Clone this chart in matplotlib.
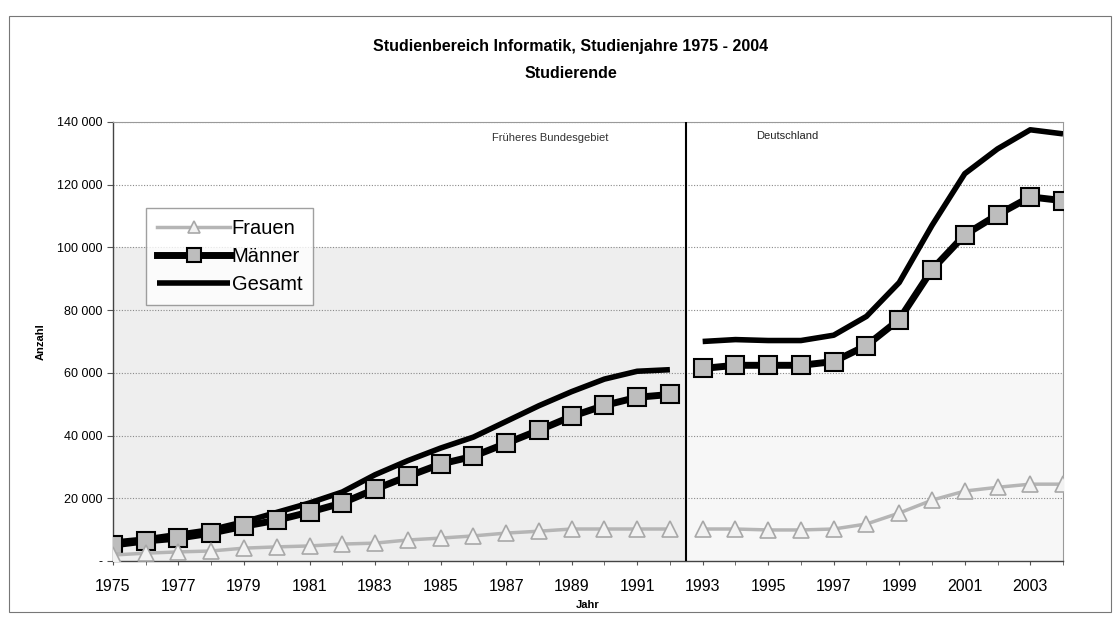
import matplotlib
matplotlib.use("Agg")
import matplotlib.pyplot as plt
from matplotlib.ticker import FuncFormatter, MultipleLocator
from matplotlib.patches import Rectangle

plt.rcParams['font.family'] = ['Liberation Sans', 'DejaVu Sans']

years_west = list(range(1975, 1993))
years_de = list(range(1993, 2005))

frauen_west = [1900, 2500, 2900, 3200, 4100, 4500, 4800, 5400, 5700, 6700,
               7300, 8000, 8900, 9500, 10200, 10200, 10200, 10200]
frauen_de = [10200, 10200, 9900, 9900, 10200, 11800, 15300, 19400, 22300,
             23500, 24500, 24500]

maenner_west = [5100, 6400, 7300, 8900, 11100, 13000, 15600, 18500, 22900,
                27000, 30900, 33400, 37500, 41700, 46100, 49600, 52200, 53100]
maenner_de = [61400, 62400, 62400, 62400, 63600, 68700, 77000, 92900, 104000,
              110400, 116100, 114900]

gesamt_west = [6000, 7000, 8500, 10000, 12500, 15500, 18500, 22000, 27500,
               32000, 36000, 39500, 44500, 49500, 54000, 58000, 60500, 61000]
gesamt_de = [70000, 70600, 70300, 70300, 72000, 78000, 88800, 107000, 123500,
             131400, 137500, 136200]

tick_years = list(range(1975, 2004, 2))

fig = plt.figure(figsize=(11.15, 6.19), dpi=100)
ax = fig.add_axes([0.1013, 0.0937, 0.8521, 0.7093])

# light grey shading (as in scanned reference)
ax.add_patch(Rectangle((1975, 0), 17.5, 100000, facecolor='#eeeeee',
                       edgecolor='none', zorder=0))
ax.add_patch(Rectangle((1992.5, 0), 11.5, 60000, facecolor='#f7f7f7',
                       edgecolor='none', zorder=0))

for yv in range(20000, 140001, 20000):
    ax.axhline(yv, color='#8a8a8a', lw=0.8, ls=(0, (1, 1.5)), zorder=1)

# Gesamt
ax.plot(years_west, gesamt_west, color='black', lw=4, solid_capstyle='butt',
        zorder=3, label='Gesamt')
ax.plot(years_de, gesamt_de, color='black', lw=4, solid_capstyle='butt', zorder=3)

# Männer
mk = dict(marker='s', markersize=12.5, markerfacecolor='#bdbdbd',
          markeredgecolor='black', markeredgewidth=1.5)
ax.plot(years_west, maenner_west, color='black', lw=5, zorder=4, label='Männer', **mk)
ax.plot(years_de, maenner_de, color='black', lw=5, zorder=4, **mk)

# Frauen
fk = dict(marker='^', markersize=12, markerfacecolor='#f2f2f2',
          markeredgecolor='#a8a8a8', markeredgewidth=1.2)
ax.plot(years_west, frauen_west, color='#b5b5b5', lw=2.5, zorder=5, label='Frauen', **fk)
ax.plot(years_de, frauen_de, color='#b5b5b5', lw=2.5, zorder=5, **fk)

# divider
ax.axvline(1992.5, color='black', lw=1.5, zorder=6)

ax.set_xlim(1975, 2004)
ax.set_ylim(0, 140000)
ax.set_xticks(tick_years)
ax.set_xticklabels([str(y) for y in tick_years], fontsize=11.5)
ax.xaxis.set_minor_locator(MultipleLocator(1))
ax.tick_params(axis='x', which='both', direction='out', length=3, pad=10, color='#555555')
ax.yaxis.set_major_locator(MultipleLocator(20000))
ax.yaxis.set_major_formatter(FuncFormatter(
    lambda v, p: '-' if v == 0 else f"{int(v):,}".replace(',', ' ')))
ax.tick_params(axis='y', direction='out', length=4, labelsize=9, color='#555555')

for s in ['top', 'right']:
    ax.spines[s].set_color('#9a9a9a')
    ax.spines[s].set_linestyle((0, (1, 1)))
for s in ['left', 'bottom']:
    ax.spines[s].set_color('#444444')
    ax.spines[s].set_linewidth(1.0)

ax.set_ylabel('Anzahl', fontsize=8, fontweight='bold', labelpad=8)
ax.set_xlabel('Jahr', fontsize=8, fontweight='bold', labelpad=4)

ax.text(0.46, 0.975, 'Früheres Bundesgebiet', transform=ax.transAxes,
        fontsize=8, ha='center', va='top', color='#333333')
ax.text(0.71, 0.98, 'Deutschland', transform=ax.transAxes,
        fontsize=8, ha='center', va='top', color='#222222')

handles, labels = ax.get_legend_handles_labels()
order = [2, 1, 0]
leg = ax.legend([handles[i] for i in order], [labels[i] for i in order],
                loc='upper left', bbox_to_anchor=(0.035, 0.805), fontsize=14.5,
                frameon=True, fancybox=False, borderpad=0.55, labelspacing=0.45,
                handlelength=3.6, handletextpad=0.1, markerscale=0.75,
                borderaxespad=0)
leg.get_frame().set_edgecolor('#888888')
leg.get_frame().set_linewidth(1.0)
leg.get_frame().set_facecolor('white')
leg.set_zorder(10)

fig.text(0.512, 0.925, 'Studienbereich Informatik, Studienjahre 1975 - 2004',
         fontsize=11.5, fontweight='bold', ha='center', va='center')
fig.text(0.512, 0.882, 'Studierende', fontsize=11.5, fontweight='bold',
         ha='center', va='center')

fig.add_artist(Rectangle((0.008, 0.012), 0.988, 0.962, transform=fig.transFigure,
                         fill=False, edgecolor='#777777', lw=0.8))

fig.savefig('out.png', dpi=100)
